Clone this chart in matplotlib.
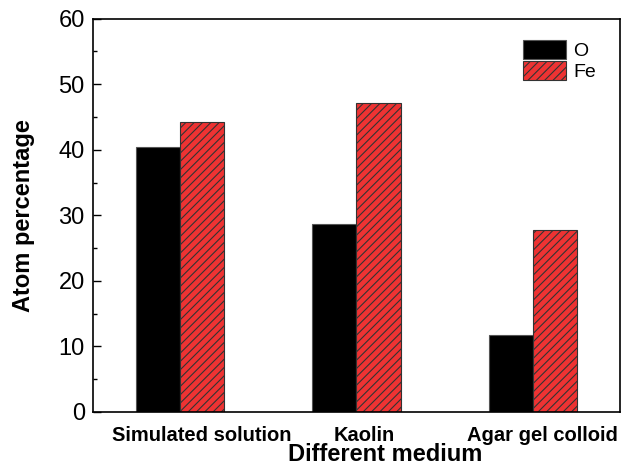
"""
Atom percentage of O and Fe in different media
"""
import numpy as np
import matplotlib
matplotlib.use("Agg")
import matplotlib.pyplot as plt
from matplotlib.ticker import MultipleLocator
from matplotlib.transforms import ScaledTranslation

plt.rcParams['font.family'] = ['Liberation Sans', 'DejaVu Sans']
plt.rcParams['hatch.linewidth'] = 0.8

media = ["Simulated solution", "Kaolin", "Agar gel colloid"]
o_values = [40.4, 28.6, 11.7]
fe_values = [44.2, 47.1, 27.8]

fig = plt.figure(figsize=(6.21, 4.68), dpi=100)
ax = fig.add_axes([0.150, 0.120, 0.848, 0.840])

x = np.arange(len(media))
w = 0.25
ax.bar(x - w/2, o_values, w, color="black", edgecolor="#555555", linewidth=0.8, label="O")
ax.bar(x + w/2, fe_values, w, color="#ee3333", edgecolor="#333333", linewidth=0.8,
       hatch="////", label="Fe")

ax.set_xlim(-0.49, 2.49)
ax.set_ylim(0, 60)
ax.set_xticks(x)
ax.set_xticklabels(media, fontsize=14.5, fontweight="bold")
ax.tick_params(axis="x", length=0, pad=10)
# labels sit a little right of the bar pairs in the original
for lab, dx in zip(ax.get_xticklabels(), [22, 8, 9]):
    lab.set_transform(lab.get_transform() + ScaledTranslation(dx / 100, 0, fig.dpi_scale_trans))

ax.yaxis.set_major_locator(MultipleLocator(10))
ax.yaxis.set_minor_locator(MultipleLocator(5))
ax.tick_params(axis="y", which="major", direction="in", length=6, width=1, labelsize=17, pad=6)
ax.tick_params(axis="y", which="minor", direction="in", length=3, width=1)
for s in ax.spines.values():
    s.set_linewidth(1.2)

ax.set_ylabel("Atom percentage", fontsize=17, fontweight="bold")
ax.yaxis.set_label_coords(-0.110, 0.5)
ax.set_xlabel("Different medium", fontsize=17, fontweight="bold")
ax.xaxis.set_label_coords(0.554, -0.080)

ax.legend(loc="upper left", bbox_to_anchor=(0.79, 0.98), frameon=False, fontsize=14,
          handlelength=2.2, handleheight=1.1, labelspacing=0.05, handletextpad=0.4,
          borderpad=0.2)

fig.savefig("out.png", dpi=100)
